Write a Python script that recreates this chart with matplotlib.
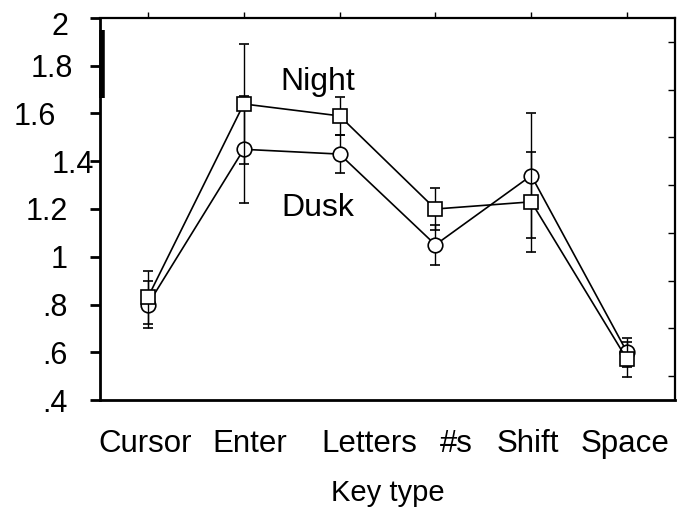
import matplotlib
matplotlib.use("Agg")
import matplotlib.pyplot as plt
import matplotlib.transforms as mtransforms
import numpy as np

plt.rcParams['font.family'] = ['Liberation Sans', 'DejaVu Sans']

categories = ["Cursor", "Enter", "Letters", "#s", "Shift", "Space"]
night = [0.83, 1.64, 1.59, 1.20, 1.23, 0.57]
night_err = [0.11, 0.25, 0.08, 0.09, 0.21, 0.075]
dusk = [0.80, 1.45, 1.43, 1.05, 1.34, 0.60]
dusk_err = [0.10, 0.225, 0.08, 0.085, 0.26, 0.06]
yticks = [0.4, 0.6, 0.8, 1.0, 1.2, 1.4, 1.6, 1.8, 2.0]
ytick_labels = [".4", ".6", ".8", "1", "1.2", "1.4", "1.6", "1.8", "2"]

fig = plt.figure(figsize=(6.8, 5.08), dpi=100)
ax = fig.add_axes([100/680, (508-400)/508, 575/680, 382/508])
x = np.arange(len(categories))

common = dict(color='black', lw=1.2, elinewidth=1.0, capsize=3.8, capthick=1.0,
              markersize=10.5, markerfacecolor='white', markeredgecolor='black',
              markeredgewidth=1.2)
ax.errorbar(x, dusk, yerr=dusk_err, marker='o', **common, zorder=3)
ax.errorbar(x, night, yerr=night_err, marker='s', **common, zorder=4)

ax.set_xlim(-0.5, 5.5)
ax.set_ylim(0.4, 2.0)
ax.set_xticks(x)
ax.set_xticklabels(categories, fontsize=22.5)
ax.set_yticks(yticks)
ax.set_yticklabels(ytick_labels, fontsize=22)

ax.tick_params(axis='x', bottom=False, top=True, direction='out', length=4,
               width=1, pad=17)
ax.tick_params(axis='y', left=True, right=False, direction='out', length=7,
               width=2, pad=16)
ax.set_yticks(np.arange(0.4, 2.0001, 0.1), minor=True)
ax.tick_params(axis='y', which='minor', left=False, right=True, direction='in',
               length=5, width=1)

for side, w in [('left', 2.0), ('bottom', 2.0), ('top', 1.6), ('right', 1.6)]:
    ax.spines[side].set_linewidth(w)

# scanned thick stroke on the upper left spine
ax.plot([0.004, 0.004], [0.79, 0.968], transform=ax.transAxes, color='black',
        lw=4, solid_capstyle='butt', clip_on=False)

# mimic the irregular placement of some tick labels in the original
y_offsets = {"2": (0.0, -0.06), "1.8": (0.05, 0.0), "1.6": (-0.12, 0.0),
             "1.4": (0.26, 0.0)}
for lab in ax.get_yticklabels():
    t = lab.get_text()
    if t in y_offsets:
        dx, dy = y_offsets[t]
        lab.set_transform(lab.get_transform() +
                          mtransforms.ScaledTranslation(dx, dy, fig.dpi_scale_trans))
x_offsets = {"Cursor": -0.03, "Enter": 0.06, "Letters": 0.30, "#s": 0.21,
             "Shift": -0.03, "Space": -0.02}
for lab in ax.get_xticklabels():
    dx = x_offsets.get(lab.get_text(), 0.0)
    lab.set_transform(lab.get_transform() +
                      mtransforms.ScaledTranslation(dx, 0, fig.dpi_scale_trans))

ax.text(1.77, 1.70, "Night", fontsize=23, ha='center', va='baseline')
ax.text(1.77, 1.17, "Dusk", fontsize=23, ha='center', va='baseline')

ax.set_xlabel("Key type", fontsize=21, labelpad=14)

fig.savefig("out.png", dpi=100)
